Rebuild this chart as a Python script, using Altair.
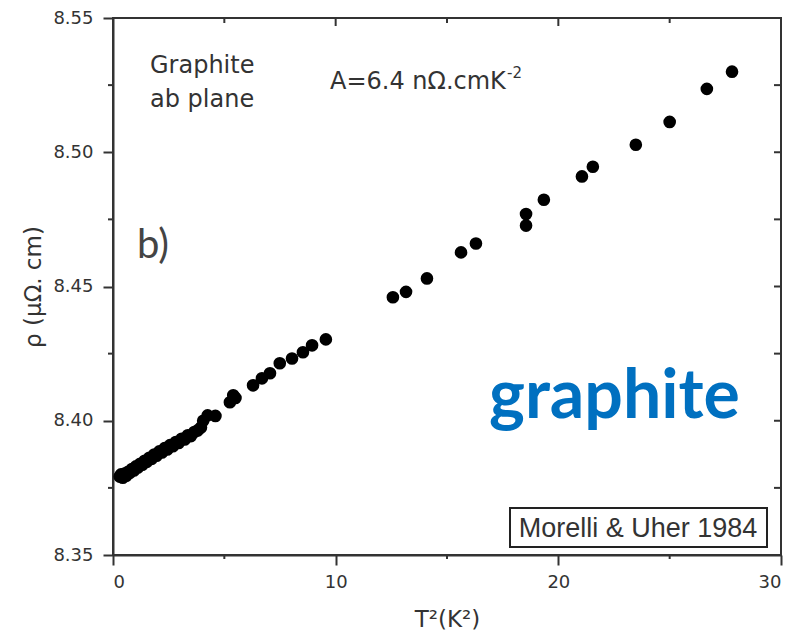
import altair as alt
import pandas as pd

# T^2 (K^2) and resistivity rho (micro-ohm cm)
t2 = [0.30, 0.36, 0.44, 0.52, 0.60, 0.68, 0.76, 0.85, 0.94, 1.03, 1.12, 1.22,
      1.32, 1.42, 1.52, 1.63, 1.74, 1.85, 1.96, 2.08, 2.20, 2.32, 2.44, 2.56,
      2.69, 2.82, 2.95, 3.08, 3.22, 3.36, 3.50, 3.65, 3.80, 3.95, 4.05, 4.25,
      4.60, 5.25, 5.40, 5.50, 6.29, 6.69, 7.05, 7.49, 8.04, 8.53, 8.94, 9.56,
      12.57, 13.16, 14.10, 15.63, 16.30, 18.55, 18.55, 19.35, 21.06, 21.55,
      23.48, 25.00, 26.67, 27.80]
rho = [8.3792, 8.3800, 8.3788, 8.3803, 8.3795, 8.3810, 8.3806, 8.3820, 8.3815,
       8.3830, 8.3826, 8.3840, 8.3836, 8.3851, 8.3847, 8.3862, 8.3858, 8.3874,
       8.3870, 8.3886, 8.3882, 8.3898, 8.3893, 8.3909, 8.3905, 8.3921, 8.3917,
       8.3933, 8.3930, 8.3946, 8.3943, 8.3958, 8.3964, 8.3975, 8.4000, 8.4020,
       8.4018, 8.4069, 8.4095, 8.4085, 8.4132, 8.4158, 8.4177, 8.4214, 8.4232,
       8.4255, 8.4281, 8.4303,
       8.4460, 8.4480, 8.4530, 8.4627, 8.4660, 8.4770, 8.4727, 8.4823, 8.4910,
       8.4946, 8.5028, 8.5113, 8.5236, 8.5300]

x_major = [0, 10, 20, 30]
x_minor = [5, 15, 25]
y_major = [8.35, 8.40, 8.45, 8.50, 8.55]
y_minor = [8.375, 8.425, 8.475, 8.525]

W, H = 668, 537
AX = "#333333"
xs = alt.Scale(domain=[0, 30], nice=False, zero=False)
ys = alt.Scale(domain=[8.35, 8.55], nice=False, zero=False)

df = pd.DataFrame({"t2": t2, "rho": rho})

points = alt.Chart(df).mark_circle(size=160, color="black", opacity=1).encode(
    x=alt.X("t2:Q", scale=xs, title="T²(K²)",
            axis=alt.Axis(values=x_major, tickSize=10, labelPadding=8,
                          titleY=71, titleBaseline="alphabetic")),
    y=alt.Y("rho:Q", scale=ys, title="ρ (µΩ. cm)",
            axis=alt.Axis(values=y_major, format=".2f", tickSize=10,
                          labelPadding=10, titleX=-80, titleBaseline="middle")),
)

def vticks(vals, y0, y1):
    d = pd.DataFrame({"t2": vals})
    return alt.Chart(d).mark_rule(color=AX, strokeWidth=2).encode(
        x=alt.X("t2:Q", scale=xs), y=alt.value(y0), y2=alt.value(y1))

def hticks(vals, x0, x1):
    d = pd.DataFrame({"rho": vals})
    return alt.Chart(d).mark_rule(color=AX, strokeWidth=2).encode(
        y=alt.Y("rho:Q", scale=ys), x=alt.value(x0), x2=alt.value(x1))

top_major = vticks(x_major[1:-1], 0, 8)
top_minor = vticks(x_minor, 0, 5)
bot_minor = vticks(x_minor, H, H + 4)
left_minor = hticks(y_minor, 0, -5)
right_ticks = hticks(y_major[1:-1] + y_minor, W, W - 7)

def label(txt, x, y, size, font="DejaVu Sans", color=AX, weight="normal", align="left"):
    return alt.Chart(pd.DataFrame({"t": [txt]})).mark_text(
        font=font, fontSize=size, color=color, fontWeight=weight,
        align=align, baseline="alphabetic").encode(
        text="t:N", x=alt.value(x), y=alt.value(y))

t_graph = label("Graphite", 37, 55, 24)
t_ab = label("ab plane", 37, 89, 24)
t_A = label("A=6.4 nΩ.cmK", 217, 71, 24)
t_sup = label("-2", 394, 60, 15)
t_b = label("b)", 24, 240, 40, font="Lato", color="#444444")
t_big = label("graphite", 376, 400, 68, font="Lato", color="#0070C0", weight="bold")

box = alt.Chart(pd.DataFrame({"a": [0]})).mark_rect(
    fill="white", stroke="#222222", strokeWidth=2).encode(
    x=alt.value(397), x2=alt.value(654), y=alt.value(490), y2=alt.value(529))
t_box = label("Morelli & Uher 1984", 525, 519, 27, font="Liberation Sans",
              color="#333333", align="center")

chart = alt.layer(
    points, top_major, top_minor, bot_minor, left_minor, right_ticks,
    t_graph, t_ab, t_A, t_sup, t_b, t_big, box, t_box,
).properties(
    width=W, height=H,
    autosize=alt.AutoSizeParams(type="none"),
    padding={"left": 105, "top": 10, "right": 11, "bottom": 80},
).configure_view(
    stroke=AX, strokeWidth=2,
).configure_axis(
    grid=False, domainColor=AX, domainWidth=2, tickColor=AX, tickWidth=2,
    labelFont="DejaVu Sans", labelFontSize=18, labelColor=AX,
    titleFont="DejaVu Sans", titleFontSize=23, titleFontWeight="normal",
    titleColor=AX,
)

chart.save("out.html", embed_options={"renderer": "svg", "actions": False})
